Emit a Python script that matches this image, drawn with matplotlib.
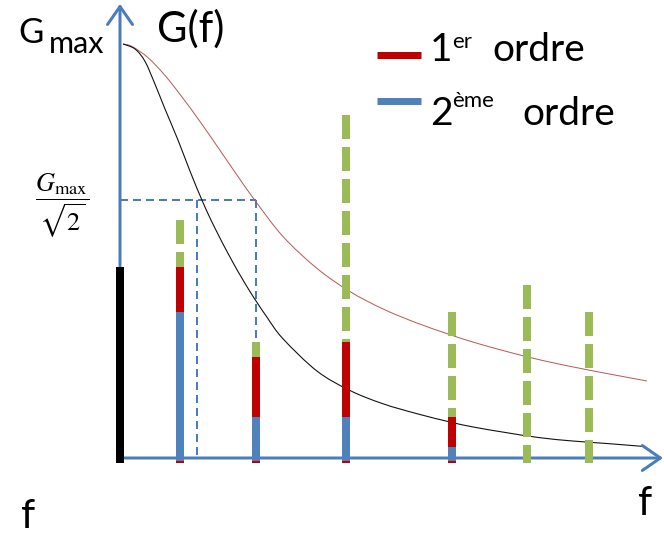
import matplotlib
matplotlib.use("Agg")
import matplotlib.pyplot as plt
from matplotlib.lines import Line2D
from matplotlib.path import Path
from matplotlib.patches import PathPatch

plt.rcParams["font.family"] = ["Lato", "DejaVu Sans"]
plt.rcParams["mathtext.fontset"] = "stix"

# Frequency in arbitrary units, gain normalised so that Gmax = 1
curve_f_2nd = [0.03, 0.15, 0.25, 0.35, 0.45, 0.58, 0.70, 0.83, 0.95, 1.13, 1.30,
               1.47, 1.63, 1.97, 2.30, 2.63, 2.97, 3.30, 3.53, 3.87, 4.20, 4.53,
               4.87, 5.23]
curve_g_2nd = [1.000, 0.988, 0.958, 0.903, 0.843, 0.768, 0.693, 0.617, 0.555, 0.472,
               0.402, 0.340, 0.288, 0.210, 0.163, 0.131, 0.107, 0.087, 0.075, 0.061,
               0.049, 0.041, 0.035, 0.028]

curve_f_1st = [0.03, 0.12, 0.28, 0.45, 0.62, 0.82, 1.02, 1.18, 1.35, 1.63, 1.97,
               2.30, 2.63, 2.97, 3.30, 3.53, 3.87, 4.20, 4.53, 4.87, 5.27]
curve_g_1st = [1.000, 0.994, 0.967, 0.924, 0.872, 0.806, 0.736, 0.680, 0.622, 0.535,
               0.458, 0.402, 0.360, 0.326, 0.298, 0.280, 0.257, 0.237, 0.220, 0.204,
               0.186]

# Spectrum: DC component and harmonics
dc_level = 0.461
harm_f = [0.60, 1.36, 2.26, 3.32, 4.07, 4.69]
input_amp = [0.575, 0.280, 0.829, 0.353, 0.418, 0.353]
out_1st = [0.461, 0.244, 0.280, 0.099, 0.0, 0.0]
out_2nd = [0.353, 0.099, 0.099, 0.027, 0.0, 0.0]

# Cut-off level Gmax/sqrt(2) and the two cut-off frequencies
cut_level = 0.623
fc_2nd = 0.77
fc_1st = 1.36

GREEN = "#9BBB59"
RED = "#C00000"
BLUE = "#4F81BD"
AXIS = "#4A7EBB"
PX = 0.72  # points per pixel at 100 dpi


def smooth_path(xs, ys):
    """Catmull-Rom curve through the points, as cubic Bezier segments."""
    pts = list(zip(xs, ys))
    verts = [pts[0]]
    codes = [Path.MOVETO]
    n = len(pts)
    for i in range(n - 1):
        p0 = pts[i - 1] if i > 0 else pts[i]
        p1, p2 = pts[i], pts[i + 1]
        p3 = pts[i + 2] if i + 2 < n else p2
        c1 = (p1[0] + (p2[0] - p0[0]) / 6, p1[1] + (p2[1] - p0[1]) / 6)
        c2 = (p2[0] - (p3[0] - p1[0]) / 6, p2[1] - (p3[1] - p1[1]) / 6)
        verts += [c1, c2, p2]
        codes += [Path.CURVE4] * 3
    return Path(verts, codes)


fig = plt.figure(figsize=(6.64, 5.36), dpi=100)
ax = fig.add_axes([0, 0, 1, 1])
ax.set_xlim(-1.2, 5.44)
ax.set_ylim(-0.1884, 1.1063)
ax.axis("off")

base = -0.012

# Transfer curves
ax.add_patch(PathPatch(smooth_path(curve_f_1st, curve_g_1st), fill=False,
                       edgecolor="#B85A5A", lw=1.0 * PX, zorder=2))
ax.add_patch(PathPatch(smooth_path(curve_f_2nd, curve_g_2nd), fill=False,
                       edgecolor="#111111", lw=1.1 * PX, zorder=2))

# Cut-off guides
dash_kw = dict(color=AXIS, lw=2 * PX, linestyle=(0, (4, 2.5)), zorder=1)
ax.plot([0, fc_1st], [cut_level, cut_level], **dash_kw)
ax.plot([fc_2nd, fc_2nd], [cut_level, 0], **dash_kw)
ax.plot([fc_1st, fc_1st], [cut_level, input_amp[1]], **dash_kw)

# Axes with open arrow heads
arrow_kw = dict(arrowstyle="->,head_length=0.65,head_width=0.45",
                color=AXIS, lw=3 * PX, shrinkA=0, shrinkB=0, mutation_scale=20)
ax.annotate("", xy=(5.43, 0), xytext=(0, 0), arrowprops=arrow_kw, zorder=3)
ax.annotate("", xy=(0, 1.097), xytext=(0, 0), arrowprops=arrow_kw, zorder=3)

# DC component
ax.plot([0, 0], [dc_level, base], color="black", lw=8 * PX,
        solid_capstyle="butt", zorder=5)

# Harmonics: input (dashed green), after 1st order (red), after 2nd order (blue)
for f, a_in, a1, a2 in zip(harm_f, input_amp, out_1st, out_2nd):
    ax.plot([f, f], [a_in, base], color=GREEN, lw=8 * PX, linestyle=(0, (3, 1)),
            dash_capstyle="butt", solid_capstyle="butt", zorder=4)
    if a1 > 0:
        ax.plot([f, f], [a1, base], color=RED, lw=8 * PX,
                solid_capstyle="butt", zorder=5)
    if a2 > 0:
        ax.plot([f, f], [a2, -0.007], color=BLUE, lw=8 * PX,
                solid_capstyle="butt", zorder=6)

# Labels
T = ax.transAxes
ax.text(0.027, 0.9198, "G", fontsize=25, transform=T, va="baseline")
ax.text(0.0738, 0.9011, "max", fontsize=22, transform=T, va="baseline")
ax.text(0.2364, 0.9216, "G(f)", fontsize=30, transform=T, va="baseline")
ax.text(0.0934, 0.6175, r"$\dfrac{G_{\max}}{\sqrt{2}}$", fontsize=19,
        transform=T, ha="center", va="center")
ax.text(0.032, 0.014, "f", fontsize=29, transform=T, va="baseline")
ax.text(0.9608, 0.0392, "f", fontsize=29, transform=T, va="baseline")

# Legend
ax.add_line(Line2D([0.5678, 0.634], [0.8983, 0.8983], transform=T, color=RED,
                   lw=7 * PX, solid_capstyle="butt"))
ax.add_line(Line2D([0.5678, 0.634], [0.8125, 0.8125], transform=T, color=BLUE,
                   lw=7 * PX, solid_capstyle="butt"))
ax.text(0.6476, 0.8862, "1", fontsize=28, transform=T, va="baseline")
ax.text(0.6807, 0.9104, "er", fontsize=16, transform=T, va="baseline")
ax.text(0.741, 0.8862, "ordre", fontsize=28, transform=T, va="baseline")
ax.text(0.6476, 0.7668, "2", fontsize=28, transform=T, va="baseline")
ax.text(0.6807, 0.8004, "ème", fontsize=16, transform=T, va="baseline")
ax.text(0.7861, 0.7668, "ordre", fontsize=28, transform=T, va="baseline")

fig.savefig("out.png", dpi=100)
